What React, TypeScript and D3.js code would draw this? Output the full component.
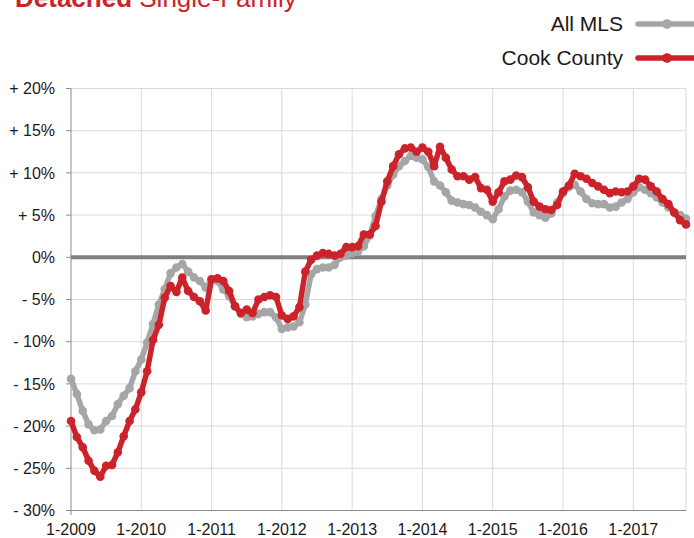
import React from "react";
import * as d3 from "d3";

const months: number[] = d3.range(0, 106);

const allMLS: number[] = [
  -14.4, -16.2, -18.2, -19.8, -20.5, -20.4, -19.4, -18.8, -17.4, -16.4, -15.5, -13.5,
  -12.1, -10.1, -7.9, -5.6, -3.8, -1.9, -1.2, -0.8, -1.7, -2.4, -2.8, -3.6,
  -2.6, -2.8, -3.8, -4.6, -5.8, -6.7, -7.1, -7.0, -6.7, -6.5, -6.5, -7.1,
  -8.5, -8.3, -8.2, -7.7, -5.6, -2.0, -1.4, -1.2, -1.2, -0.9, 0.0, 0.2,
  0.5, 0.7, 1.3, 2.6, 4.9, 6.9, 8.5, 9.8, 10.8, 11.4, 12.0, 11.8,
  11.6, 10.7, 9.0, 8.5, 7.7, 6.7, 6.5, 6.3, 6.2, 5.9, 5.4, 5.0,
  4.5, 5.7, 7.2, 7.9, 8.0, 7.7, 6.6, 5.3, 5.0, 4.7, 5.2, 6.5,
  7.6, 8.3, 8.6, 7.8, 6.9, 6.4, 6.3, 6.3, 5.9, 6.0, 6.5, 6.9,
  7.7, 8.3, 8.0, 7.6, 7.1, 6.5, 5.9, 5.3, 5.0, 4.6,
];

const cookCounty: number[] = [
  -19.4, -21.3, -22.5, -24.1, -25.3, -26.0, -24.7, -24.6, -23.1, -21.2, -19.4, -18.0,
  -16.0, -13.5, -9.8, -8.0, -4.8, -3.4, -4.1, -2.4, -4.0, -4.7, -5.2, -6.3,
  -2.6, -2.5, -2.8, -4.0, -5.8, -6.6, -6.2, -6.6, -5.0, -4.7, -4.5, -4.7,
  -6.9, -7.3, -7.0, -5.9, -1.7, -0.3, 0.2, 0.5, 0.4, 0.2, 0.4, 1.2,
  1.2, 1.3, 2.7, 2.7, 3.7, 6.6, 9.0, 10.8, 12.2, 12.9, 13.0, 12.5,
  13.0, 12.5, 10.8, 13.1, 11.8, 10.4, 9.6, 9.6, 9.2, 9.5, 8.2, 8.0,
  6.6, 7.7, 9.0, 9.2, 9.7, 9.5, 8.3, 6.6, 6.0, 5.7, 5.6, 6.2,
  7.8, 8.5, 9.9, 9.6, 9.3, 8.8, 8.4, 8.0, 7.6, 7.8, 7.7, 7.8,
  8.4, 9.3, 9.2, 8.4, 7.8, 6.9, 6.3, 5.3, 4.4, 3.9,
];

const yTicks: number[] = [20, 15, 10, 5, 0, -5, -10, -15, -20, -25, -30];
const yTickLabels: string[] = ["+ 20%", "+ 15%", "+ 10%", "+ 5%", "0%", "- 5%", "- 10%", "- 15%", "- 20%", "- 25%", "- 30%"];
const xTicks: number[] = [0, 12, 24, 36, 48, 60, 72, 84, 96];
const xTickLabels: string[] = ["1-2009", "1-2010", "1-2011", "1-2012", "1-2013", "1-2014", "1-2015", "1-2016", "1-2017"];

const seriesNames: string[] = ["All MLS", "Cook County"];
const seriesColors: string[] = ["#a6a6a6", "#cc2229"];

const FONT = "'Liberation Sans', Arial, Helvetica, sans-serif";

export default function App() {
  const W = 694, H = 538;
  const x = d3.scaleLinear().domain([0, 105]).range([71, 686]);
  const y = d3.scaleLinear().domain([-30, 20]).range([510.5, 88.5]);
  const series = [allMLS, cookCounty];
  const line = d3.line<number>().x((_, i) => x(months[i])).y((d) => y(d));

  return (
    <svg width={W} height={H} style={{ position: "absolute", left: 0, top: 0, background: "#fff" }} fontFamily={FONT}>
      {/* title */}
      <text x={15} y={7} fontSize={26} fill="#cc2229">
        <tspan fontWeight="bold">Detached</tspan>
        <tspan> Single-Family</tspan>
      </text>

      {/* legend */}
      {seriesNames.map((n, k) => {
        const ly = k === 0 ? 24 : 58;
        return (
          <g key={n}>
            <text x={623} y={ly + 7} fontSize={21} textAnchor="end" fill="#1a1a1a">{n}</text>
            <line x1={638} x2={700} y1={ly} y2={ly} stroke={seriesColors[k]} strokeWidth={5.5} strokeLinecap="round" />
            <circle cx={667} cy={ly} r={4.8} fill={seriesColors[k]} />
          </g>
        );
      })}

      {/* horizontal gridlines */}
      {yTicks.map((t) => (
        <line key={"gy" + t} x1={71} x2={686} y1={y(t)} y2={y(t)} stroke="#dadada" strokeWidth={1} />
      ))}
      {/* vertical gridlines */}
      {xTicks.slice(1).map((t) => (
        <line key={"gx" + t} x1={x(t)} x2={x(t)} y1={y(20)} y2={y(-30)} stroke="#dadada" strokeWidth={1} />
      ))}
      <line x1={x(105)} x2={x(105)} y1={y(20)} y2={y(-30)} stroke="#dadada" strokeWidth={1} />

      {/* y ticks and labels */}
      {yTicks.map((t, k) => (
        <g key={"yt" + t}>
          <line x1={66} x2={71} y1={y(t)} y2={y(t)} stroke="#8c8c8c" strokeWidth={1} />
          <text x={55} y={y(t)} dy="0.35em" fontSize={16} textAnchor="end" fill="#1a1a1a">{yTickLabels[k]}</text>
        </g>
      ))}

      {/* x labels */}
      {xTicks.map((t, k) => (
        <text key={"xt" + t} x={x(t)} y={535} fontSize={16} textAnchor="middle" fill="#1a1a1a">{xTickLabels[k]}</text>
      ))}

      {/* axes */}
      <line x1={71} x2={71} y1={y(20)} y2={515} stroke="#8c8c8c" strokeWidth={1} />
      <line x1={71} x2={686} y1={y(-30)} y2={y(-30)} stroke="#8c8c8c" strokeWidth={1} />
      <line x1={71} x2={686} y1={y(0)} y2={y(0)} stroke="#7f7f7f" strokeWidth={4} />

      {/* series */}
      {series.map((s, k) => (
        <g key={"s" + k}>
          <path d={line(s) || ""} fill="none" stroke={seriesColors[k]} strokeWidth={5.5} strokeLinejoin="round" strokeLinecap="round" />
          {s.map((v, i) => (
            <circle key={i} cx={x(months[i])} cy={y(v)} r={4.3} fill={seriesColors[k]} />
          ))}
        </g>
      ))}
    </svg>
  );
}
